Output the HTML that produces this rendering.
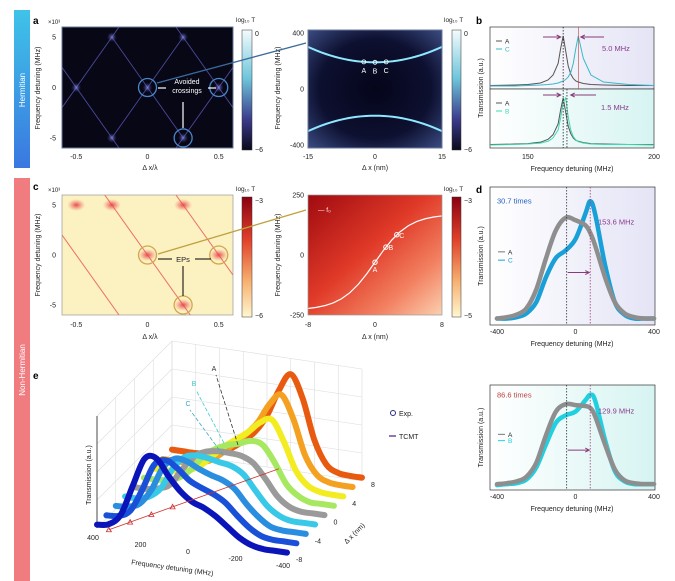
<!DOCTYPE html>
<html><head><meta charset="utf-8"><style>
html,body{margin:0;padding:0;background:#fff;}
svg{display:block;font-family:"Liberation Sans",sans-serif;}
</style></head><body>
<svg id="fig" width="675" height="581" viewBox="0 0 675 581" xmlns="http://www.w3.org/2000/svg">
<defs>
<linearGradient id="hermBand" x1="0" y1="0" x2="0" y2="1"><stop offset="0" stop-color="#3fc3e8"/><stop offset="1" stop-color="#3a78e0"/></linearGradient>
<linearGradient id="cbBlue" x1="0" y1="0" x2="0" y2="1"><stop offset="0" stop-color="#f4fbfd"/><stop offset="0.4" stop-color="#6fc6dc"/><stop offset="0.75" stop-color="#3a3a8a"/><stop offset="1" stop-color="#0a0a1a"/></linearGradient>
<linearGradient id="cbRed" x1="0" y1="0" x2="0" y2="1"><stop offset="0" stop-color="#8a0010"/><stop offset="0.35" stop-color="#e0402a"/><stop offset="0.7" stop-color="#f6b070"/><stop offset="1" stop-color="#fff7d0"/></linearGradient>
<radialGradient id="aRight" cx="0.5" cy="0.5" r="0.7"><stop offset="0" stop-color="#05051a"/><stop offset="0.6" stop-color="#0d1030"/><stop offset="1" stop-color="#3a4a80"/></radialGradient>
<linearGradient id="cRight" x1="0" y1="0" x2="1" y2="1"><stop offset="0" stop-color="#a00a10"/><stop offset="0.45" stop-color="#e03a28"/><stop offset="0.75" stop-color="#f28060"/><stop offset="1" stop-color="#fbd0b0"/></linearGradient>
<linearGradient id="bBg" x1="0" y1="0" x2="1" y2="0"><stop offset="0" stop-color="#ffffff"/><stop offset="1" stop-color="#e4e4f6"/></linearGradient>
<linearGradient id="bBg2" x1="0" y1="0" x2="1" y2="0"><stop offset="0" stop-color="#ffffff"/><stop offset="1" stop-color="#d6f4f2"/></linearGradient>
<radialGradient id="glow"><stop offset="0" stop-color="#9aa0ff" stop-opacity="0.7"/><stop offset="1" stop-color="#4040a0" stop-opacity="0"/></radialGradient>
<radialGradient id="glowR"><stop offset="0" stop-color="#e02030" stop-opacity="0.8"/><stop offset="1" stop-color="#f06060" stop-opacity="0"/></radialGradient>
</defs>

<rect x="14" y="10" width="16" height="158" fill="url(#hermBand)"/>
<text transform="translate(25,90) rotate(-90)" text-anchor="middle" font-size="8" fill="#fff">Hermitian</text>
<rect x="14" y="178" width="16" height="403" fill="#f07c80"/>
<text transform="translate(25,370) rotate(-90)" text-anchor="middle" font-size="8" fill="#fff">Non-Hermitian</text>

<g font-weight="bold" font-size="10" fill="#000">
<text x="33" y="24">a</text>
<text x="476" y="24">b</text>
<text x="33" y="190">c</text>
<text x="476" y="193">d</text>
<text x="33" y="379">e</text>
</g>

<g id="panelA"></g>
<g id="panelB"></g>
<g id="panelC"></g>
<g id="panelD"></g>
<g id="panelE"></g>
</svg>
<script>
// ---------- data ----------
const bFreqs = [135,145,150,155,158,160,162,163,164,165,166,167,168,169,170,172,175,180,190,200];
const bA = [0.01,0.02,0.03,0.06,0.12,0.22,0.45,0.75,1.0,0.7,0.4,0.24,0.15,0.1,0.08,0.05,0.03,0.02,0.01,0.01];
const bC = [0.0,0.0,0.01,0.02,0.03,0.04,0.06,0.08,0.1,0.13,0.18,0.27,0.45,0.75,1.0,0.55,0.22,0.08,0.03,0.01];
const bB = [0.0,0.01,0.02,0.04,0.08,0.15,0.32,0.58,0.9,1.0,0.6,0.32,0.18,0.11,0.07,0.04,0.02,0.01,0.01,0.0];
const dFreqs = [-400,-350,-300,-250,-200,-150,-100,-50,0,50,75,100,150,200,250,300,350,400];
const dA = [0.02,0.03,0.05,0.1,0.25,0.5,0.72,0.82,0.8,0.76,0.7,0.6,0.35,0.15,0.06,0.03,0.02,0.02];
const dC = [0.02,0.02,0.03,0.06,0.15,0.35,0.5,0.56,0.65,0.85,0.95,0.85,0.45,0.15,0.05,0.02,0.02,0.02];
const dA2 = [0.02,0.03,0.05,0.1,0.25,0.55,0.8,0.88,0.87,0.86,0.84,0.75,0.45,0.18,0.06,0.03,0.02,0.02];
const dB2 = [0.01,0.02,0.03,0.07,0.2,0.45,0.68,0.76,0.8,0.92,0.98,0.92,0.5,0.16,0.05,0.02,0.02,0.02];
const eFreqs = [400,350,300,250,200,150,100,50,0,-50,-100,-150,-200,-250,-300,-350,-400];
const eDx = [-8,-6,-4,-2,0,2,4,6,8];
const eSeries = [
 [0.03,0.05,0.15,0.42,0.68,0.7,0.56,0.44,0.36,0.32,0.26,0.18,0.1,0.05,0.03,0.03,0.03],
 [0.03,0.04,0.1,0.3,0.54,0.6,0.54,0.45,0.4,0.36,0.3,0.2,0.11,0.05,0.03,0.03,0.03],
 [0.03,0.04,0.08,0.22,0.44,0.53,0.52,0.47,0.43,0.4,0.34,0.22,0.12,0.05,0.03,0.03,0.03],
 [0.03,0.03,0.06,0.15,0.34,0.46,0.49,0.48,0.46,0.44,0.38,0.25,0.13,0.06,0.03,0.03,0.03],
 [0.03,0.03,0.05,0.1,0.25,0.38,0.44,0.46,0.46,0.45,0.4,0.28,0.14,0.06,0.03,0.03,0.03],
 [0.03,0.03,0.04,0.08,0.17,0.3,0.38,0.43,0.46,0.5,0.48,0.34,0.16,0.07,0.03,0.03,0.03],
 [0.03,0.03,0.04,0.06,0.12,0.22,0.32,0.4,0.48,0.58,0.62,0.44,0.2,0.08,0.04,0.03,0.03],
 [0.03,0.03,0.03,0.05,0.08,0.16,0.26,0.36,0.48,0.66,0.76,0.56,0.25,0.09,0.04,0.03,0.03],
 [0.03,0.03,0.03,0.04,0.06,0.12,0.2,0.3,0.46,0.7,0.86,0.66,0.3,0.1,0.04,0.03,0.03]
];
const eColors = ["#0a14b8","#1a50d8","#2a8ee0","#38c8e8","#9a9a9a","#a6e860","#f2ec20","#f4a020","#e85a10"];
const eTicksF = [400,200,0,-200,-400];
const eTicksDx = [-8,-4,0,4,8];

const NS="http://www.w3.org/2000/svg";
function mk(parent,tag,attrs,text){const e=document.createElementNS(NS,tag);for(const k in attrs)e.setAttribute(k,attrs[k]);if(text!==undefined)e.textContent=text;parent.appendChild(e);return e;}
function lin(d0,d1,r0,r1){return v=>r0+(v-d0)/(d1-d0)*(r1-r0);}
function txt(p,x,y,s,opt){const o=Object.assign({x:x,y:y,'font-size':7,fill:'#222'},opt||{});return mk(p,'text',o,s);}
function smooth(pts){let d='M'+pts[0][0].toFixed(1)+','+pts[0][1].toFixed(1);for(let i=0;i<pts.length-1;i++){const p0=pts[i-1]||pts[i],p1=pts[i],p2=pts[i+1],p3=pts[i+2]||p2;const c1=[p1[0]+(p2[0]-p0[0])/6,p1[1]+(p2[1]-p0[1])/6],c2=[p2[0]-(p3[0]-p1[0])/6,p2[1]-(p3[1]-p1[1])/6];d+=`C${c1[0].toFixed(1)},${c1[1].toFixed(1)} ${c2[0].toFixed(1)},${c2[1].toFixed(1)} ${p2[0].toFixed(1)},${p2[1].toFixed(1)}`;}return d;}

// ---------- Panel A ----------
(function(){
 const g=document.getElementById('panelA');
 const x=lin(-0.6,0.6,62,233), y=lin(6,-6,27,148);
 const hm=mk(g,'rect',{x:62,y:27,width:171,height:121,fill:'#070716'});
 
 const cp=mk(g,'clipPath',{id:'clipA'});mk(cp,'rect',{x:62,y:27,width:171,height:121});
 const cg=mk(g,'g',{'clip-path':'url(#clipA)'});
 const segs=[[-0.75,-5,-0.25,5],[-0.25,5,0.25,-5],[0.25,-5,0.75,5],[-0.75,5,-0.25,-5],[-0.25,-5,0.25,5],[0.25,5,0.75,-5],[-0.25,5,0,10],[0.25,5,0,10],[-0.25,-5,0,-10],[0.25,-5,0,-10]];
 segs.forEach(s=>{const l=mk(cg,'line',{x1:x(s[0]),y1:y(s[1]),x2:x(s[2]),y2:y(s[3]),stroke:'#4a4a98','stroke-width':0.9});});
 [[-0.5,0],[0,0],[0.5,0],[-0.25,5],[0.25,5],[-0.25,-5],[0.25,-5]].forEach(p=>mk(cg,'circle',{cx:x(p[0]),cy:y(p[1]),r:5,fill:'url(#glow)'}));
 [[0,0],[0.5,0],[0.25,-5]].forEach(p=>{const c=mk(g,'circle',{cx:x(p[0]),cy:y(p[1]),r:9,fill:'none',stroke:'#4a86c8','stroke-width':1.3});});
 txt(g,187,84,'Avoided',{fill:'#fff','text-anchor':'middle','font-size':7});
 txt(g,187,93,'crossings',{fill:'#fff','text-anchor':'middle','font-size':7});
 mk(g,'line',{x1:158,y1:88,x2:166,y2:88,stroke:'#fff','stroke-width':1.2});
 mk(g,'line',{x1:208,y1:88,x2:216,y2:88,stroke:'#fff','stroke-width':1.2});
 mk(g,'line',{x1:183,y1:102,x2:183,y2:128,stroke:'#fff','stroke-width':1.2});
 mk(g,'rect',{x:62,y:27,width:171,height:121,fill:'none',stroke:'#6a7a9a','stroke-width':1});
 [5,0,-5].forEach(v=>txt(g,56,y(v)+2.5,String(v),{'text-anchor':'end'}));
 [-0.5,0,0.5].forEach(v=>txt(g,x(v),159,String(v),{'text-anchor':'middle'}));
 txt(g,48,24,'×10³',{'font-size':6});
 txt(g,150,170,'Δ x/λ',{'text-anchor':'middle'});
 txt(g,0,0,'Frequency detuning (MHz)',{transform:'translate(40,88) rotate(-90)','text-anchor':'middle'});
 mk(g,'rect',{x:242,y:30,width:10,height:120,fill:'url(#cbBlue)',stroke:'#333','stroke-width':0.5});
 txt(g,236,22,'log₁₀ T',{'font-size':6.5});
 txt(g,255,36,'0');txt(g,255,152,'−6');
 const xr=lin(-15,15,308,442), yr=lin(420,-420,30,148);
 mk(g,'rect',{x:308,y:30,width:134,height:118,fill:'url(#aRight)'});
 let top='',bot='';
 for(let i=0;i<=30;i++){const v=-15+i;const f=190+110*(v/15)*(v/15);top+=(i?'L':'M')+xr(v)+','+yr(f);bot+=(i?'L':'M')+xr(v)+','+yr(-f);}
 const tl=mk(g,'path',{d:top,stroke:'#8ee8ff','stroke-width':2,fill:'none'});
 const bl=mk(g,'path',{d:bot,stroke:'#8ee8ff','stroke-width':2,fill:'none'});
 [['A',-2.5],['B',0],['C',2.5]].forEach(p=>{const f=190+110*(p[1]/15)*(p[1]/15);mk(g,'circle',{cx:xr(p[1]),cy:yr(f),r:2,fill:'none',stroke:'#fff','stroke-width':0.8});txt(g,xr(p[1]),yr(f)+11,p[0],{fill:'#fff','text-anchor':'middle'});});
 mk(g,'rect',{x:308,y:30,width:134,height:118,fill:'none',stroke:'#6a7a9a'});
 [400,0,-400].forEach(v=>txt(g,304,yr(v)+2.5,String(v),{'text-anchor':'end'}));
 [-15,0,15].forEach(v=>txt(g,xr(v),159,String(v),{'text-anchor':'middle'}));
 txt(g,375,170,'Δ x (nm)',{'text-anchor':'middle'});
 txt(g,0,0,'Frequency detuning (MHz)',{transform:'translate(280,88) rotate(-90)','text-anchor':'middle'});
 mk(g,'rect',{x:452,y:30,width:9,height:120,fill:'url(#cbBlue)',stroke:'#333','stroke-width':0.5});
 txt(g,444,22,'log₁₀ T',{'font-size':6.5});txt(g,464,36,'0');txt(g,464,152,'−6');
 mk(g,'line',{x1:157,y1:83,x2:306,y2:43,stroke:'#3a6a9a','stroke-width':1.3});
})();

// ---------- Panel B ----------
(function(){
 const g=document.getElementById('panelB');
 const x=lin(135,200,490,654);
 function sub(y0,h,bg,s1,s2,c2,l2){
  mk(g,'rect',{x:490,y:y0,width:164,height:h,fill:bg,stroke:'#333','stroke-width':0.7});
  const yy=v=>y0+h-3-v*(h-12);
  [[s1,'#555'],[s2,c2]].forEach(([s,c],k)=>{let d='';s.forEach((v,i)=>d+=(i?'L':'M')+x(bFreqs[i])+','+yy(v));const p=mk(g,'path',{d:d,fill:'none',stroke:c,'stroke-width':1});});
  mk(g,'line',{x1:496,y1:y0+14,x2:502,y2:y0+14,stroke:'#555'});txt(g,505,y0+16.5,'A',{'font-size':6.5});
  mk(g,'line',{x1:496,y1:y0+22,x2:502,y2:y0+22,stroke:c2});txt(g,505,y0+24.5,l2,{'font-size':6.5,fill:c2});
 }
 sub(27,62,'url(#bBg)',bA,bC,'#3ab8c8','C');
 sub(89,59,'url(#bBg2)',bA,bB,'#40d8b0','B');
 mk(g,'line',{x1:x(164),y1:27,x2:x(164),y2:148,stroke:'#222','stroke-dasharray':'1.5,1.5','stroke-width':0.8});
 mk(g,'line',{x1:x(170),y1:27,x2:x(170),y2:89,stroke:'#c04040','stroke-width':0.6});
 mk(g,'line',{x1:x(165.5),y1:89,x2:x(165.5),y2:148,stroke:'#222','stroke-dasharray':'1.5,1.5','stroke-width':0.8});
 mk(g,'path',{d:`M543,37 L${x(163)},37 M${x(163)-4},35 L${x(163)},37 L${x(163)-4},39`,stroke:'#8a3a7a',fill:'none','stroke-width':1});
 mk(g,'path',{d:`M604,37 L${x(171)},37 M${x(171)+4},35 L${x(171)},37 L${x(171)+4},39`,stroke:'#8a3a7a',fill:'none','stroke-width':1});
 mk(g,'path',{d:`M543,95 L${x(163)},95 M${x(163)-4},93 L${x(163)},95 L${x(163)-4},97`,stroke:'#8a3a7a',fill:'none','stroke-width':1});
 mk(g,'path',{d:`M596,95 L${x(167)},95 M${x(167)+4},93 L${x(167)},95 L${x(167)+4},97`,stroke:'#8a3a7a',fill:'none','stroke-width':1});
 txt(g,602,51,'5.0 MHz',{fill:'#8a3a8a','font-size':7.5});
 txt(g,601,110,'1.5 MHz',{fill:'#8a3a8a','font-size':7.5});
 txt(g,x(150),159,'150',{'text-anchor':'middle'});txt(g,x(200),159,'200',{'text-anchor':'middle'});
 txt(g,572,171,'Frequency detuning (MHz)',{'text-anchor':'middle'});
 txt(g,0,0,'Transmission (a.u.)',{transform:'translate(483,88) rotate(-90)','text-anchor':'middle'});
})();

// ---------- Panel C ----------
(function(){
 const g=document.getElementById('panelC');
 const x=lin(-0.6,0.6,62,233), y=lin(6,-6,195,315);
 mk(g,'rect',{x:62,y:195,width:171,height:120,fill:'#fcf1c0'});
 const cp=mk(g,'clipPath',{id:'clipC'});mk(cp,'rect',{x:62,y:195,width:171,height:120});
 const cg=mk(g,'g',{'clip-path':'url(#clipC)'});
 [[-0.25,5],[0,0],[0.25,-5],[0.25,5],[0.5,0],[-0.5,5],[0.75,-5]].forEach(p=>mk(cg,'ellipse',{cx:x(p[0]),cy:y(p[1]),rx:9,ry:6,fill:'url(#glowR)'}));
 [[-0.5,10,0.5,-10],[0,10,1,-10],[-1,10,0,-10]].forEach(s=>{const l=mk(cg,'line',{x1:x(s[0]),y1:y(s[1]),x2:x(s[2]),y2:y(s[3]),stroke:'#e85050','stroke-width':1,'stroke-opacity':0.8});});
 [[0,0],[0.5,0],[0.25,-5]].forEach(p=>mk(g,'circle',{cx:x(p[0]),cy:y(p[1]),r:9,fill:'none',stroke:'#d0a850','stroke-width':1.3}));
 txt(g,183,262,'EPs',{'text-anchor':'middle','font-size':7.5});
 mk(g,'line',{x1:158,y1:259,x2:172,y2:259,stroke:'#000'});mk(g,'line',{x1:195,y1:259,x2:211,y2:259,stroke:'#000'});
 mk(g,'line',{x1:183,y1:266,x2:183,y2:296,stroke:'#000'});
 mk(g,'rect',{x:62,y:195,width:171,height:120,fill:'none',stroke:'#999','stroke-width':0.7});
 [5,0,-5].forEach(v=>txt(g,56,y(v)+2.5,String(v),{'text-anchor':'end'}));
 [-0.5,0,0.5].forEach(v=>txt(g,x(v),327,String(v),{'text-anchor':'middle'}));
 txt(g,48,192,'×10³',{'font-size':6});
 txt(g,150,339,'Δ x/λ',{'text-anchor':'middle'});
 txt(g,0,0,'Frequency detuning (MHz)',{transform:'translate(40,255) rotate(-90)','text-anchor':'middle'});
 mk(g,'rect',{x:242,y:197,width:10,height:120,fill:'url(#cbRed)',stroke:'#333','stroke-width':0.5});
 txt(g,236,191,'log₁₀ T',{'font-size':6.5});txt(g,255,203,'−3');txt(g,255,318,'−6');
 const xr=lin(-8,8,308,442), yr=lin(250,-250,195,315);
 mk(g,'rect',{x:308,y:195,width:134,height:120,fill:'url(#cRight)'});
 let d='';for(let i=0;i<=16;i++){const v=-8+i;const f=200*Math.tanh(v/4);d+=(i?'L':'M')+xr(v)+','+yr(f-30);}
 const pl=mk(g,'path',{d:d,stroke:'#fff','stroke-width':1.2,fill:'none'});
 [['A',0],['B',1.3],['C',2.6]].forEach(p=>{const f=200*Math.tanh(p[1]/4)-30;mk(g,'circle',{cx:xr(p[1]),cy:yr(f),r:2.2,fill:'none',stroke:'#fff'});txt(g,xr(p[1])+(p[0]=='A'?0:5),yr(f)+(p[0]=='A'?10:3),p[0],{fill:'#fff','text-anchor':'middle'});});
 txt(g,318,212,'— f₀',{fill:'#fff','font-size':6.5});
 mk(g,'rect',{x:308,y:195,width:134,height:120,fill:'none',stroke:'#999','stroke-width':0.7});
 [250,0,-250].forEach(v=>txt(g,304,yr(v)+2.5,String(v),{'text-anchor':'end'}));
 [-8,0,8].forEach(v=>txt(g,xr(v),327,String(v),{'text-anchor':'middle'}));
 txt(g,375,339,'Δ x (nm)',{'text-anchor':'middle'});
 txt(g,0,0,'Frequency detuning (MHz)',{transform:'translate(280,255) rotate(-90)','text-anchor':'middle'});
 mk(g,'rect',{x:452,y:197,width:9,height:120,fill:'url(#cbRed)',stroke:'#333','stroke-width':0.5});
 txt(g,444,191,'log₁₀ T',{'font-size':6.5});txt(g,464,203,'−3');txt(g,464,318,'−5');
 mk(g,'line',{x1:158,y1:254,x2:306,y2:210,stroke:'#c0a040','stroke-width':1.3});
})();

// ---------- Panel D ----------
(function(){
 const g=document.getElementById('panelD');
 const x=lin(-400,400,497,654);
 function sub(y0,h,bg,sA,sX,cX,lX,lblTimes,lblMHz,timesColor){
  mk(g,'rect',{x:490,y:y0,width:165,height:h,fill:bg,stroke:'#333','stroke-width':0.7});
  const yy=v=>y0+h-4-v*(h-12);
  [[sX,cX,'curve-'+lX],[sA,'#8e8e8e','curve-A']].forEach(([s,c,n])=>{const pts=s.map((v,i)=>[x(dFreqs[i]),yy(v)]);const p=mk(g,'path',{d:smooth(pts),fill:'none',stroke:c,'stroke-width':4.5,'stroke-linejoin':'round','stroke-linecap':'round'});});
  mk(g,'line',{x1:x(-45),y1:y0,x2:x(-45),y2:y0+h,stroke:'#333','stroke-dasharray':'1.5,1.5','stroke-width':0.8});
  mk(g,'line',{x1:x(75),y1:y0,x2:x(75),y2:y0+h,stroke:'#a04070','stroke-dasharray':'1.5,1.5','stroke-width':0.8});
  const ya=y0+h*0.62;
  mk(g,'path',{d:`M${x(-40)},${ya} L${x(70)},${ya} M${x(70)-4},${ya-2} L${x(70)},${ya} L${x(70)-4},${ya+2}`,stroke:'#8a3a7a',fill:'none','stroke-width':1});
  mk(g,'line',{x1:498,y1:y0+h*0.47,x2:505,y2:y0+h*0.47,stroke:'#777'});txt(g,508,y0+h*0.47+2.5,'A',{'font-size':6.5});
  mk(g,'line',{x1:498,y1:y0+h*0.53,x2:505,y2:y0+h*0.53,stroke:cX});txt(g,508,y0+h*0.53+2.5,lX,{'font-size':6.5,fill:cX});
  txt(g,497,y0+h*0.12,lblTimes,{fill:timesColor,'font-size':7.5});
  txt(g,598,y0+h*0.27,lblMHz,{fill:'#8a3a8a','font-size':7.5});
  [-400,0,400].forEach(v=>txt(g,x(v),y0+h+9,String(v),{'text-anchor':'middle'}));
  txt(g,572,y0+h+21,'Frequency detuning (MHz)',{'text-anchor':'middle'});
  txt(g,0,0,'Transmission (a.u.)',{transform:`translate(483,${y0+h/2}) rotate(-90)`,'text-anchor':'middle'});
 }
 sub(187,138,'url(#bBg)',dA,dC,'#1aa0d8','C','30.7 times','153.6 MHz','#2060c0');
 sub(385,105,'url(#bBg2)',dA2,dB2,'#20d0e0','B','86.6 times','129.9 MHz','#c04040');
})();

// ---------- Panel E ----------
(function(){
 const g=document.getElementById('panelE');
 const O=[97,528];
 function P(f,dx,T){const a=(400-f)/800, b=(dx+8)/16;return [O[0]+a*190+b*75, O[1]+a*28-b*75-T*112];}
 const grid=mk(g,'g',{stroke:'#dcdcdc','stroke-width':0.6,fill:'none'});
 
 for(let i=0;i<=8;i++){const f=400-i*100;const a=P(f,8,0),b=P(f,8,1.0);mk(grid,'line',{x1:a[0],y1:a[1],x2:b[0],y2:b[1]});}
 for(let i=0;i<=4;i++){const t=i*0.25;const a=P(400,8,t),b=P(-400,8,t);mk(grid,'line',{x1:a[0],y1:a[1],x2:b[0],y2:b[1]});}
 for(let i=0;i<=4;i++){const t=i*0.25;const a=P(400,-8,t),b=P(400,8,t);mk(grid,'line',{x1:a[0],y1:a[1],x2:b[0],y2:b[1]});}
 for(let i=0;i<=4;i++){const dx=-8+i*4;const a=P(400,dx,0),b=P(400,dx,1.0);mk(grid,'line',{x1:a[0],y1:a[1],x2:b[0],y2:b[1]});}
 const ax=P(400,-8,0),ay=P(400,-8,1.0);mk(g,'line',{x1:ax[0],y1:ax[1],x2:ay[0],y2:ay[1],stroke:'#222','stroke-width':0.8});
 for(let k=eSeries.length-1;k>=0;k--){const pts=eSeries[k].map((v,i)=>P(eFreqs[i],eDx[k],v));
  const c=mk(g,'path',{d:smooth(pts),fill:'none',stroke:eColors[k],'stroke-width':6,'stroke-linejoin':'round','stroke-linecap':'round'});
  
  }
 let td='';eDx.forEach((dx,i)=>{const p=P(150-dx*25,dx,0);td+=(i?'L':'M')+p[0]+','+p[1];});
 mk(g,'path',{d:td,stroke:'#d03030','stroke-width':0.8,fill:'none'});
 [-8,-6,-4,-2].forEach(dx=>{const p=P(150-dx*25,dx,0);mk(g,'path',{d:`M${p[0]-2.5},${p[1]+2} L${p[0]+2.5},${p[1]+2} L${p[0]},${p[1]-2.5}Z`,fill:'none',stroke:'#d03030','stroke-width':0.8});});
 [['A',208,445,216,375,'#333'],['B',194,443,196,390,'#40c8d0'],['C',193,455,190,410,'#40a8c0']].forEach(([l,x1,y1,x2,y2,c])=>{mk(g,'line',{x1:x1+30,y1:y1,x2:x2,y2:y2,stroke:c,'stroke-dasharray':'4,2','stroke-width':0.8});txt(g,x2-2,y2-4,l,{fill:c,'text-anchor':'middle'});});
 eTicksF.forEach(f=>{const p=P(f,-8,0);txt(g,p[0]-4,p[1]+12,String(f),{'text-anchor':'middle'});});
 eTicksDx.forEach(dx=>{const p=P(-400,dx,0);txt(g,p[0]+9,p[1]+6,String(dx));});
 txt(g,0,0,'Frequency detuning (MHz)',{transform:'translate(172,570) rotate(8)','text-anchor':'middle'});
 txt(g,0,0,'Δ x (nm)',{transform:'translate(356,535) rotate(-45)','text-anchor':'middle'});
 txt(g,0,0,'Transmission (a.u.)',{transform:'translate(91,475) rotate(-90)','text-anchor':'middle'});
 const lg=mk(g,'g',{});
 mk(lg,'circle',{cx:393,cy:413,r:2.5,fill:'none',stroke:'#2a2a8a','stroke-width':1});txt(lg,399,416,'Exp.');
 mk(lg,'line',{x1:389,y1:436,x2:396,y2:436,stroke:'#6a4aa0','stroke-width':1.5});txt(lg,399,439,'TCMT');
})();
</script>
</body></html>
